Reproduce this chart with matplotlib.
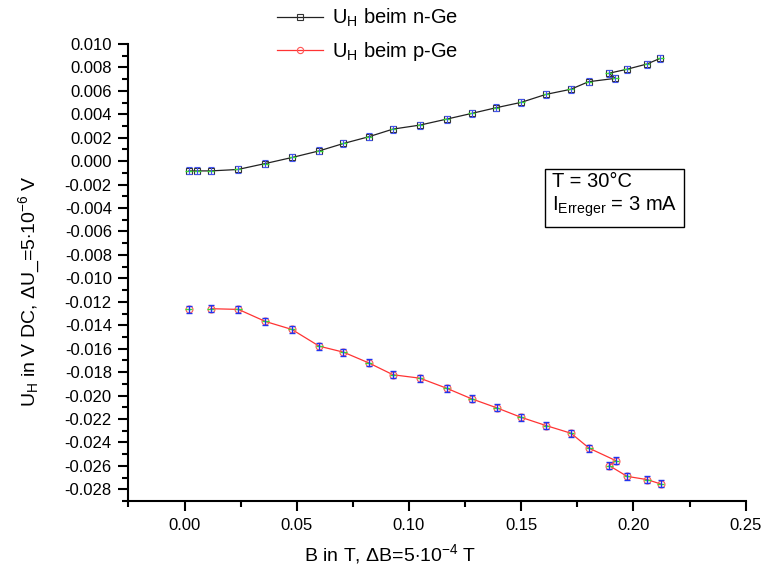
import numpy as np
import matplotlib
matplotlib.use("Agg")
import matplotlib.pyplot as plt
from matplotlib.ticker import MultipleLocator, FixedLocator, FuncFormatter

plt.rcParams['font.family'] = ['Liberation Sans', 'DejaVu Sans']
plt.rcParams['mathtext.fontset'] = 'custom'
plt.rcParams['mathtext.rm'] = 'Liberation Sans'
plt.rcParams['mathtext.it'] = 'Liberation Sans:italic'

# B in T (data order, as measured)
b_n = [0.0019, 0.0057, 0.0117, 0.0237, 0.0360, 0.0480, 0.0600, 0.0708, 0.0820,
       0.0929, 0.1049, 0.1168, 0.1280, 0.1388, 0.1500, 0.1610, 0.1720, 0.1800,
       0.1920, 0.1890, 0.1970, 0.2060, 0.2120]
u_n = [-0.00083, -0.00083, -0.00083, -0.00071, -0.00020, 0.00032, 0.00088, 0.00151,
       0.00208, 0.00274, 0.00308, 0.00359, 0.00408, 0.00456, 0.00502, 0.00570,
       0.00613, 0.00678, 0.00707, 0.00750, 0.00784, 0.00829, 0.00878]

b_p = [0.0019, 0.0057, 0.0117, 0.0240, 0.0360, 0.0478, 0.0600, 0.0708, 0.0820,
       0.0929, 0.1049, 0.1168, 0.1279, 0.1391, 0.1498, 0.1610, 0.1722, 0.1803,
       0.1922, 0.1892, 0.1972, 0.2062, 0.2122]
u_p = [-0.01265, np.nan, -0.01259, -0.01265, -0.01368, -0.01436, -0.01579, -0.01630,
       -0.01721, -0.01823, -0.01852, -0.01938, -0.02028, -0.02105, -0.02185, -0.02256,
       -0.02322, -0.02450, -0.02556, -0.02598, -0.02690, -0.02718, -0.02755]

x_err = 0.0015
y_err = 0.0003

x_major = [0.0, 0.05, 0.10, 0.15, 0.20, 0.25]
y_major = [-0.028, -0.026, -0.024, -0.022, -0.020, -0.018, -0.016, -0.014, -0.012, -0.010,
           -0.008, -0.006, -0.004, -0.002, 0.0, 0.002, 0.004, 0.006, 0.008, 0.010]

fig = plt.figure(figsize=(7.62, 5.73), dpi=100)
ax = fig.add_axes([0.1686, 0.1257, 0.8099, 0.7975])

# n-Ge
ax.plot(b_n, u_n, color='#222222', lw=0.9, marker='s', ms=5, mfc='none',
        mec='#333333', mew=0.8, label=r'U$_\mathrm{H}$ beim n-Ge', zorder=2)
ax.errorbar(b_n, u_n, xerr=x_err, fmt='none', ecolor='#33dd33', elinewidth=1,
            capsize=0, zorder=3)
ax.errorbar(b_n, u_n, yerr=y_err, fmt='none', ecolor='#4455ee', elinewidth=0.8,
            capsize=2, capthick=0.8, zorder=4)

# p-Ge
ax.plot(b_p, u_p, color='#ff3333', lw=0.9, marker='o', ms=5, mfc='none',
        mec='#ff5555', mew=0.8, label=r'U$_\mathrm{H}$ beim p-Ge', zorder=2)
ax.errorbar(b_p, u_p, xerr=x_err, fmt='none', ecolor='#33dd33', elinewidth=1,
            capsize=0, zorder=3)
ax.errorbar(b_p, u_p, yerr=y_err, fmt='none', ecolor='#2233ee', elinewidth=1,
            capsize=2, capthick=1, zorder=4)

ax.set_xlim(-0.025, 0.25)
ax.set_ylim(-0.029, 0.010)
ax.xaxis.set_major_locator(FixedLocator(x_major))
ax.xaxis.set_minor_locator(MultipleLocator(0.025))
ax.yaxis.set_major_locator(FixedLocator(y_major))
ax.yaxis.set_minor_locator(MultipleLocator(0.001))
ax.xaxis.set_major_formatter(FuncFormatter(lambda v, p: '%.2f' % (abs(v) if abs(v) < 1e-9 else v)))
ax.yaxis.set_major_formatter(FuncFormatter(lambda v, p: '%.3f' % (abs(v) if abs(v) < 1e-9 else v)))

for s in ['top', 'right']:
    ax.spines[s].set_visible(False)
for s in ['left', 'bottom']:
    ax.spines[s].set_linewidth(1.5)
ax.tick_params(which='major', direction='out', length=7, width=1.5, labelsize=12, pad=5)
ax.tick_params(which='minor', direction='out', length=4, width=1.5)

ax.set_xlabel(r'B in T, $\Delta$B=5$\cdot$10$^{-4}$ T', fontsize=14)
ax.set_ylabel(r'U$_\mathrm{H}$ in V DC, $\Delta$U_=5$\cdot$10$^{-6}$ V', fontsize=14)
ax.xaxis.set_label_coords(0.424, -0.09)
ax.yaxis.set_label_coords(-0.14, 0.46)

leg = fig.legend(loc='upper left', bbox_to_anchor=(0.350, 1.006), frameon=False,
                 fontsize=14.5, handlelength=2.3, handletextpad=0.45, labelspacing=0.55,
                 borderpad=0, markerscale=0.9)

ax.text(0.6865, 0.668, 'T = 30°C\n' + r'I$_\mathrm{Erreger}$ = 3 mA', transform=ax.transAxes,
        fontsize=14.5, va='center', ha='left', linespacing=1.25,
        bbox=dict(boxstyle='square,pad=0.35', fc='white', ec='black', lw=1))

plt.savefig('out.png', dpi=100)
